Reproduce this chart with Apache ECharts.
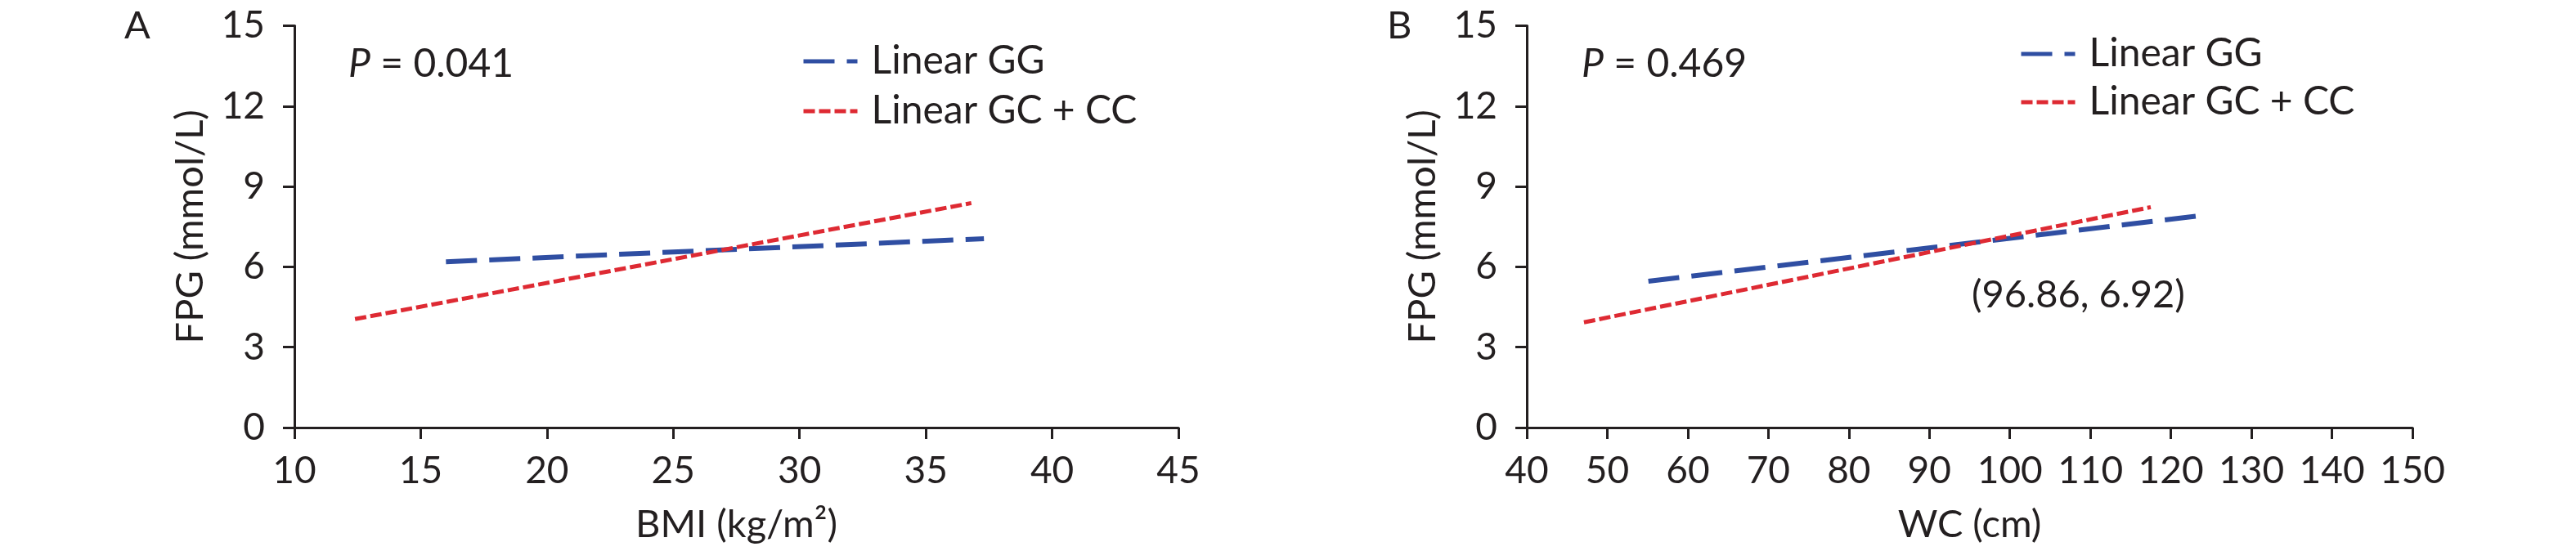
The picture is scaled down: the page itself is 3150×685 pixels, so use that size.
<!DOCTYPE html>
<html>
<head>
<meta charset="utf-8">
<script src="https://cdn.jsdelivr.net/npm/echarts@6/dist/echarts.min.js"></script>
<style>
html,body{margin:0;padding:0;background:#fff;}
#chart{width:3150px;height:685px;}
</style>
</head>
<body>
<div id="chart"></div>
<script>
// ---- data ----
const seriesNames = ['Linear GG', 'Linear GC + CC'];
const bmiGG = [[16.0, 6.19], [37.3, 7.05]];
const bmiGCCC = [[12.4, 4.05], [36.8, 8.38]];
const wcGG = [[55.1, 5.46], [123.3, 7.90]];
const wcGCCC = [[47.1, 3.93], [117.5, 8.23]];
const yTicks = [0, 3, 6, 9, 12, 15];
const bmiTicks = [10, 15, 20, 25, 30, 35, 40, 45];
const wcTicks = [40, 50, 60, 70, 80, 90, 100, 110, 120, 130, 140, 150];
const pValues = ['0.041', '0.469'];
const intersectionLabel = '(96.86, 6.92)';

const FONT = 'Lato, "Open Sans", sans-serif';
const INK = '#231f20';
const BLUE = '#2f4ea2';
const RED = '#de2a33';
const DASH_GG = [38, 15];
const DASH_GC = [14, 5];

const chart = echarts.init(document.getElementById('chart'), null, {renderer: 'canvas'});

function xAxisCfg(idx, ticks, name) {
  return {
    type: 'value', gridIndex: idx,
    min: ticks[0], max: ticks[ticks.length - 1], interval: ticks[1] - ticks[0],
    name: name, nameLocation: 'middle', nameGap: 95,
    nameTextStyle: {fontFamily: FONT, fontSize: 47, color: INK},
    axisLine: {show: true, onZero: false, lineStyle: {color: INK, width: 3}},
    axisTick: {show: true, length: 14, lineStyle: {color: INK, width: 3}},
    axisLabel: {fontFamily: FONT, fontSize: 46, color: INK, margin: 30},
    splitLine: {show: false}
  };
}
function yAxisCfg(idx) {
  return {
    type: 'value', gridIndex: idx,
    min: yTicks[0], max: yTicks[yTicks.length - 1], interval: yTicks[1] - yTicks[0],
    name: 'FPG (mmol/L)', nameLocation: 'middle', nameGap: 104, nameRotate: 90,
    nameTextStyle: {fontFamily: FONT, fontSize: 47, color: INK},
    axisLine: {show: true, lineStyle: {color: INK, width: 3}},
    axisTick: {show: true, length: 14, lineStyle: {color: INK, width: 3}},
    axisLabel: {fontFamily: FONT, fontSize: 46, color: INK, margin: 36},
    splitLine: {show: false}
  };
}
function lineSeries(name, idx, data, color, dash, width) {
  return {
    name: name, type: 'line', xAxisIndex: idx, yAxisIndex: idx,
    data: data, symbol: 'none', showSymbol: false, silent: true,
    lineStyle: {color: color, width: width, type: dash},
    itemStyle: {color: color},
    animation: false
  };
}
function legendCfg(name, left, centerY, color, dash, width) {
  return {
    data: [name], left: left, top: centerY - 26,
    itemWidth: 66, itemHeight: 14, orient: 'vertical',
    selectedMode: false,
    itemStyle: {opacity: 0, borderWidth: 0},
    lineStyle: {color: color, width: width, type: dash, opacity: 1},
    textStyle: {fontFamily: FONT, fontSize: 48, color: INK, padding: [0, 0, 0, 12]}
  };
}
function pText(left, val) {
  return {
    type: 'text', left: left, top: 55,
    style: {
      text: '{i|P} = ' + val,
      rich: {i: {fontStyle: 'italic', fontFamily: FONT, fontSize: 48, fill: INK}},
      fontFamily: FONT, fontSize: 48, fill: INK
    }
  };
}

const option = {
  backgroundColor: '#ffffff',
  animation: false,
  grid: [
    {left: 360, top: 31.5, width: 1081, height: 491.5},
    {left: 1867, top: 31.5, width: 1083, height: 491.5}
  ],
  xAxis: [xAxisCfg(0, bmiTicks, 'BMI (kg/m²)'), xAxisCfg(1, wcTicks, 'WC (cm)')],
  yAxis: [yAxisCfg(0), yAxisCfg(1)],
  legend: [
    legendCfg(seriesNames[0], 975, 72, BLUE, DASH_GG, 5),
    legendCfg(seriesNames[1], 975, 133, RED, DASH_GC, 5),
    legendCfg(seriesNames[0], 2464, 63, BLUE, DASH_GG, 5),
    legendCfg(seriesNames[1], 2464, 122, RED, DASH_GC, 5)
  ],
  series: [
    lineSeries(seriesNames[0], 0, bmiGG, BLUE, DASH_GG, 6),
    lineSeries(seriesNames[1], 0, bmiGCCC, RED, DASH_GC, 5),
    lineSeries(seriesNames[0], 1, wcGG, BLUE, DASH_GG, 6),
    lineSeries(seriesNames[1], 1, wcGCCC, RED, DASH_GC, 5)
  ],
  graphic: [
    {type: 'text', left: 152, top: 8, style: {text: 'A', fontFamily: FONT, fontSize: 47, fill: INK}},
    {type: 'text', left: 1696, top: 8, style: {text: 'B', fontFamily: FONT, fontSize: 47, fill: INK}},
    pText(426, pValues[0]),
    pText(1934, pValues[1]),
    {type: 'text', left: 2411, top: 337, style: {text: intersectionLabel, fontFamily: FONT, fontSize: 47, fill: INK}}
  ]
};
chart.setOption(option);
</script>
</body>
</html>
